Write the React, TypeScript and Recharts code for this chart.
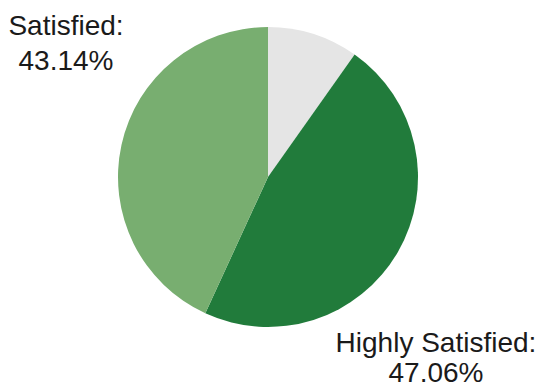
import { Cell, Pie, PieChart } from 'recharts'

const names = ['Other', 'Highly Satisfied', 'Satisfied']
const shares = [9.8, 47.06, 43.14]
const colors = ['#e5e5e5', '#217b3b', '#78ae70']

const data = names.map((name, i) => ({ name, value: shares[i] }))

// label spots relative to the pie centre, only for the two named slices
const labelSpots: Record<string, { dx: number; dy: number; gap: number }> = {
  Satisfied: { dx: -202, dy: -142, gap: 35 },
  'Highly Satisfied': { dx: 168, dy: 175, gap: 30 },
}

function SliceLabel(props: any) {
  const spot = labelSpots[props.name]
  if (!spot) return null
  const x = props.cx + spot.dx
  const y = props.cy + spot.dy
  return (
    <text
      x={x}
      y={y}
      textAnchor="middle"
      fill="#1a1a1a"
      fontSize={28}
      fontFamily="'Liberation Sans', Arial, sans-serif"
    >
      <tspan x={x} y={y}>{props.name}:</tspan>
      <tspan x={x} y={y + spot.gap}>{props.value.toFixed(2)}%</tspan>
    </text>
  )
}

export default function App() {
  return (
    <div style={{ position: 'absolute', left: 0, top: 0, background: '#fff' }}>
      <PieChart width={546} height={390} margin={{ top: 0, right: 0, bottom: 0, left: 0 }}>
        <Pie
          data={data}
          dataKey="value"
          nameKey="name"
          cx={268}
          cy={177}
          outerRadius={150}
          startAngle={90}
          endAngle={-270}
          stroke="none"
          labelLine={false}
          label={SliceLabel}
          isAnimationActive={false}
        >
          {data.map((d, i) => (
            <Cell key={d.name} fill={colors[i]} />
          ))}
        </Pie>
      </PieChart>
    </div>
  )
}
